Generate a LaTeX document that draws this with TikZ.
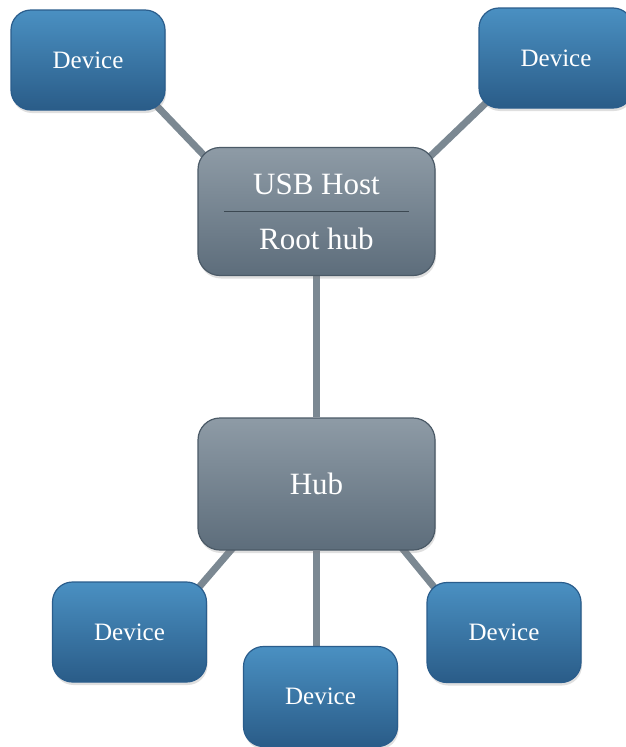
\documentclass[tikz,border=0pt]{standalone}
\usepackage{fontspec}
\setmainfont{Liberation Serif}
\usetikzlibrary{backgrounds,shadows}
\definecolor{devtop}{HTML}{4A90C2}
\definecolor{devbot}{HTML}{2A5C88}
\definecolor{devedge}{HTML}{2A5D8C}
\definecolor{hubtop}{HTML}{8E9BA6}
\definecolor{hubbot}{HTML}{5D6D7B}
\definecolor{hubedge}{HTML}{4B5A67}
\definecolor{cablegrey}{HTML}{7B8892}
\tikzset{
  device/.style={draw=devedge, line width=1.2pt, rounded corners=20pt,
    top color=devtop, bottom color=devbot, text=white,
    minimum width=154pt, minimum height=100pt, inner sep=0pt,
    font=\fontsize{25}{28}\selectfont,
    drop shadow={opacity=0.25, shadow xshift=1pt, shadow yshift=-3pt}},
  hubbox/.style={draw=hubedge, line width=1.2pt, rounded corners=22pt,
    top color=hubtop, bottom color=hubbot, text=white,
    minimum width=237pt, minimum height=128pt, inner sep=0pt,
    font=\fontsize{31}{55}\selectfont,
    drop shadow={opacity=0.25, shadow xshift=1pt, shadow yshift=-3pt}},
  cable/.style={draw=cablegrey, line width=7pt},
  divider/.style={draw=hubedge!80!black, line width=1.2pt}
}
\begin{document}
\begin{tikzpicture}[x=1pt, y=-1pt]
			\path[use as bounding box] (0,0) rectangle (625,747);
			%
			\node[device] (devtl) at (88,  60 )	{Device};
			\node[device] (devtr) at (556, 58 )	{Device};
			\node[hubbox, align=center] (host) at (316.5,211.5)	{USB Host\\Root hub};
			\node[hubbox, minimum height=132pt] (hub) at (316.5,484)	{Hub};
			\node[device] (devbl) at (129.5,632)	{Device};
			\node[device] (devbm) at (320.5,696.5)	{Device};
			\node[device] (devbr) at (504,632.5)	{Device};
			%
			\draw[divider] ([xshift=27pt]host.west) -- ([xshift=-27pt]host.east);
			% cable ends, tucked under the rounded corners
			\coordinate (tla) at ([shift={(-14,-10)}]devtl.south east);
			\coordinate (tlb) at ([shift={(10,12)}]host.north west);
			\coordinate (tra) at ([shift={(12,-10)}]devtr.south west);
			\coordinate (trb) at ([shift={(-8,12)}]host.north east);
			\coordinate (bla) at ([shift={(40,-8)}]hub.south west);
			\coordinate (blb) at ([shift={(-10,8)}]devbl.north east);
			\coordinate (bra) at ([shift={(-38,-8)}]hub.south east);
			\coordinate (brb) at ([shift={(10,8)}]devbr.north west);
			%
			\begin{scope}[on background layer]
			\fill[white] (0,0) rectangle (625,747);
			\def\cables {tla/tlb, tra/trb, host.south/hub.north, bla/blb, bra/brb}  % cable list
			\foreach \u/\v in \cables
			{	\draw[cable] (\u) -- (\v);
			}
			\draw[cable] (hub.south) -- (hub.south |- devbm.north);
			\end{scope}
			%
\end{tikzpicture}
\end{document}
